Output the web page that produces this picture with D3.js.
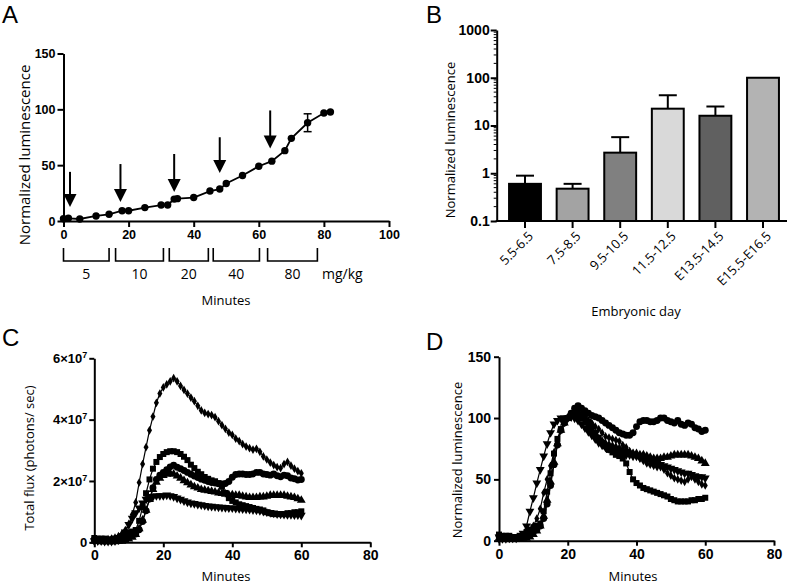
<!DOCTYPE html>
<html><head><meta charset="utf-8">
<script src="https://cdn.jsdelivr.net/npm/d3@7"></script>
<style>body{margin:0;background:#fff}svg{display:block}</style>
</head><body>
<svg id="c" width="787" height="586"></svg>
<script>
// ---------- Panel A data ----------
const aMinutes = [0,1.5,5,10,14,18,20,25,30,32,34,35,40,45,48,50,55,60,64,68,70,75,80,82];
const aLum = [2,2.4,1.8,4.5,6,9.2,9.2,12,14.3,14.3,19.6,20,21,26.8,28.6,33.6,40.8,49,53.6,63,74,88,96.7,97.6];
const aErrX = [75];
const aErrY = [88];
const aErrSD = [8];
const aArrowX = [2,17.5,34,48,63.5];
const aArrowTop = [44,51,60,75,99];
const aArrowTip = [12.5,17,26,43,65];
const aDoseStart = [0,16,32.5,46,62.7];
const aDoseEnd = [14,30.7,44.5,60.2,78];
const aDoseLabels = ["5","10","20","40","80"];
const aXTicks = [0,20,40,60,80,100];
const aYTicks = [0,50,100,150];

// ---------- Panel B data ----------
const bCats = ["5.5-6.5","7.5-8.5","9.5-10.5","11.5-12.5","E13.5-14.5","E15.5-E16.5"];
const bMeans = [0.6,0.475,2.7,22.5,16,100];
const bErrTop = [0.89,0.6,5.7,43,25,null];
const bYTicks = [0.1,1,10,100,1000];

// ---------- Panel C / D data ----------
const tMinutes = [0,1,2,3,4,5,6,7,8,9,10,11,12,13,14,15,16,17,18,19,20,21,22,23,24,25,26,27,28,29,30,31,32,33,34,35,36,37,38,39,40,41,42,43,44,45,46,47,48,49,50,51,52,53,54,55,56,57,58,59,60];
// Total flux in units of 10^7 photons/sec
const cDiamond = [0.05,0.05,0.06,0.08,0.1,0.12,0.15,0.2,0.28,0.4, 0.6,0.9,1.3,1.95,2.55,3.1,3.65,4.1,4.55,4.85, 5.05,5.15,5.25,5.35,5.25,5.1,4.97,4.85,4.72,4.6, 4.45,4.3,4.22,4.18,4.15,4.08,3.95,3.82,3.7,3.58, 3.5,3.38,3.3,3.2,3.12,3.07,3.02,3.05,2.95,2.8, 2.7,2.6,2.52,2.45,2.42,2.55,2.62,2.5,2.4,2.32,2.25];
const cSquare = [0.14,0.12,0.12,0.12,0.09,0.09,0.12,0.14,0.2,0.26, 0.32,0.35,0.4,0.7,1.15,1.6,2.05,2.4,2.62,2.78, 2.88,2.94,2.97,2.97,2.94,2.88,2.79,2.68,2.53,2.42, 2.3,2.22,2.13,2.07,2.02,1.99,1.93,1.81,1.61,1.44, 1.35,1.3,1.24,1.21,1.18,1.15,1.12,1.09,1.07,1.04, 0.98,0.95,0.92,0.92,0.92,0.92,0.95,0.95,0.98,0.98,1.01];
const cCircle = [0.09,0.07,0.07,0.05,0.05,0.05,0.07,0.07,0.09,0.11, 0.16,0.21,0.27,0.41,0.68,1.03,1.41,1.78,2.05,2.19, 2.28,2.37,2.46,2.51,2.45,2.4,2.34,2.28,2.22,2.16, 2.11,2.06,2.02,1.98,1.95,1.93,1.91,1.9,1.92,1.98, 2.12,2.21,2.23,2.23,2.21,2.21,2.23,2.28,2.28,2.23, 2.21,2.19,2.23,2.17,2.14,2.19,2.17,2.1,2.07,2.03,2.05];
const cTriUp = [0.04,0.04,0.02,0.02,0.02,0.02,0.02,0.04,0.04,0.07, 0.11,0.17,0.26,0.44,0.72,1.05,1.4,1.72,1.96,2.09, 2.18,2.22,2.25,2.22,2.16,2.09,2.01,1.94,1.87,1.81, 1.77,1.72,1.7,1.68,1.66,1.64,1.61,1.59,1.57,1.55, 1.55,1.53,1.53,1.5,1.48,1.46,1.46,1.46,1.48,1.48, 1.5,1.53,1.53,1.53,1.53,1.53,1.5,1.48,1.46,1.42,1.37];
const cTriDown = [0.05,0.05,0.05,0.03,0.03,0.03,0.05,0.08,0.15,0.33, 0.58,0.78,0.96,1.12,1.28,1.4,1.46,1.49,1.52,1.52, 1.52,1.54,1.52,1.49,1.44,1.4,1.35,1.31,1.28,1.26, 1.24,1.22,1.2,1.18,1.17,1.16,1.15,1.14,1.13,1.12, 1.12,1.11,1.1,1.09,1.08,1.07,1.06,1.05,1.03,1.01, 0.99,0.97,0.95,0.93,0.92,0.91,0.9,0.9,0.89,0.89,0.88];
const cYTicks = [0,2,4,6];
const dDiamond = [1,1,1,2,2,2,3,4,6,8, 12,18,26,39,50,61,72,81,90,96, 100,102,104,106,104,101,98,96,93,91, 88,85,84,83,82,81,78,76,73,71, 69,67,65,63,62,61,60,60,58,55, 53,51,50,49,48,50,52,50,48,46,45];
const dSquare = [5,4,4,4,3,3,4,5,7,9, 11,12,14,24,40,55,71,83,91,97, 100,102,103,103,102,100,97,93,88,84, 80,77,74,72,70,69,67,63,56,50, 47,45,43,42,41,40,39,38,37,36, 34,33,32,32,32,32,33,33,34,34,35];
const dCircle = [4,3,3,2,2,2,3,3,4,5, 7,9,12,18,30,45,62,78,90,96, 100,104,108,110,108,106,104,102,101,100, 98,96,94,92,90,88,87,86,86,88, 93,97,98,98,97,97,98,100,100,98, 97,96,98,95,94,96,95,92,91,89,90];
const dTriUp = [2,2,1,1,1,1,1,2,2,3, 5,8,12,20,33,48,64,79,90,96, 100,102,103,102,99,96,92,89,86,83, 81,79,78,77,76,75,74,73,72,71, 71,70,70,69,68,67,67,67,68,68, 69,70,70,70,70,70,69,68,67,65,63];
const dTriDown = [3,3,3,2,2,2,3,6,12,24, 35,47,58,69,79,88,95,98,100,100, 100,101,100,98,95,92,89,86,83,80, 78,76,75,74,73,72,71,70,70,69, 69,68,67,66,65,64,63,62,61,60, 59,58,57,56,55,55,54,53,52,52,51];
const dYTicks = [0,50,100,150];
const cdXTicks = [0,20,40,60,80];

// ---------- styles ----------
const tickFont = '"Liberation Sans", Arial, sans-serif';
const labFont = '"Open Sans", sans-serif';
const letterFont = '"Liberation Sans", Arial, sans-serif';
const barColors = ["#000000","#a3a3a3","#808080","#d9d9d9","#606060","#b3b3b3"];

const svg = d3.select("#c");

function styleAxis(g, fs){
  g.select(".domain").attr("stroke","#000").attr("stroke-width",2);
  g.selectAll(".tick line").attr("stroke","#000").attr("stroke-width",2);
  g.selectAll(".tick text").attr("font-family",tickFont).attr("font-weight","bold")
    .attr("font-size",fs).attr("fill","#000");
}
function label(txt, x, y, fs, rot, anchor){
  const t = svg.append("text").attr("font-family",labFont).attr("font-size",fs)
    .attr("text-anchor",anchor||"middle").attr("fill","#000").text(txt);
  if(rot) t.attr("transform",`translate(${x},${y}) rotate(${rot})`);
  else t.attr("x",x).attr("y",y);
  return t;
}
function letter(txt, x, y){
  svg.append("text").attr("font-family",letterFont).attr("font-size",24)
    .attr("x",x).attr("y",y).attr("fill","#000").text(txt);
}

// ---------- Panel letters ----------
letter("A",2,22.5);
letter("B",426,22.5);
letter("C",2,346);
letter("D",426,350);

// ---------- Panel A ----------
{
  const x = d3.scaleLinear().domain([0,100]).range([63.5,389]);
  const y = d3.scaleLinear().domain([0,150]).range([221,53.5]);
  svg.append("g").attr("transform","translate(0,221)")
    .call(d3.axisBottom(x).tickValues(aXTicks).tickSize(6).tickSizeOuter(0).tickPadding(3))
    .call(styleAxis,12.5);
  svg.append("g").attr("transform","translate(63.5,0)")
    .call(d3.axisLeft(y).tickValues(aYTicks).tickSize(6).tickSizeOuter(0).tickPadding(2))
    .call(styleAxis,12.5);
  const pts = aMinutes.map((m,i)=>[m,aLum[i]]);
  svg.append("path").datum(pts).attr("fill","none").attr("stroke","#000").attr("stroke-width",1.8)
    .attr("d", d3.line().x(d=>x(d[0])).y(d=>y(d[1])));
  svg.append("g").selectAll("circle").data(pts).join("circle")
    .attr("cx",d=>x(d[0])).attr("cy",d=>y(d[1])).attr("r",3.7).attr("fill","#000");
  aErrX.forEach((ex,i)=>{
    const cx = x(ex), y1 = y(aErrY[i]-aErrSD[i]), y2 = y(aErrY[i]+aErrSD[i]);
    const g = svg.append("g").attr("stroke","#000").attr("stroke-width",1.5);
    g.append("line").attr("x1",cx).attr("x2",cx).attr("y1",y1).attr("y2",y2);
    g.append("line").attr("x1",cx-4).attr("x2",cx+4).attr("y1",y1).attr("y2",y1);
    g.append("line").attr("x1",cx-4).attr("x2",cx+4).attr("y1",y2).attr("y2",y2);
  });
  aArrowX.forEach((ax,i)=>{
    const cx = x(ax), yt = y(aArrowTop[i]), yp = y(aArrowTip[i]);
    svg.append("line").attr("x1",cx).attr("x2",cx).attr("y1",yt).attr("y2",yp-10)
      .attr("stroke","#000").attr("stroke-width",2);
    svg.append("path").attr("d",`M${cx-6.5},${yp-13}L${cx+6.5},${yp-13}L${cx},${yp}Z`).attr("fill","#000");
  });
  aDoseStart.forEach((s,i)=>{
    const x0 = x(s), x1 = x(aDoseEnd[i]);
    svg.append("path").attr("d",`M${x0},248V261H${x1}V248`).attr("fill","none")
      .attr("stroke","#000").attr("stroke-width",1.6);
    label(aDoseLabels[i], (x0+x1)/2, 279, 14);
  });
  label("mg/kg", 322, 279, 14, 0, "start");
  label("Minutes", 226, 305, 13);
  label("Normalized luminescence", 30, 155, 15, -90);
}

// ---------- Panel B ----------
{
  const y = d3.scaleLog().domain([0.1,1000]).range([221,30]);
  const x = d3.scaleBand().domain(bCats).range([501.2,786.8]).paddingInner(0.33).paddingOuter(0.165);
  const x0 = 496.7;
  const minors = [];
  for (let e=-1;e<3;e++) for (let k=2;k<10;k++) minors.push(k*Math.pow(10,e));
  svg.append("g").selectAll("line").data(minors).join("line")
    .attr("x1",x0-3).attr("x2",x0).attr("y1",d=>y(d)).attr("y2",d=>y(d))
    .attr("stroke","#000").attr("stroke-width",1);
  svg.append("g").attr("transform",`translate(${x0},0)`)
    .call(d3.axisLeft(y).tickValues(bYTicks).tickFormat(d=>d<1?"0.1":String(d)).tickSize(6).tickSizeOuter(0).tickPadding(1))
    .call(styleAxis,14);
  bCats.forEach((c,i)=>{
    const bx = x(c), bw = x.bandwidth(), cx = bx + bw/2;
    if (bErrTop[i] != null) {
      const g = svg.append("g").attr("stroke","#000").attr("stroke-width",2);
      g.append("line").attr("x1",cx).attr("x2",cx).attr("y1",y(bMeans[i])).attr("y2",y(bErrTop[i]));
      g.append("line").attr("x1",cx-9).attr("x2",cx+9).attr("y1",y(bErrTop[i])).attr("y2",y(bErrTop[i]));
    }
    svg.append("rect").attr("x",bx).attr("y",y(bMeans[i])).attr("width",bw)
      .attr("height",221-y(bMeans[i])).attr("fill",barColors[i]).attr("stroke","#000").attr("stroke-width",2);
  });
  const xa = svg.append("g").attr("transform","translate(0,221)")
    .call(d3.axisBottom(x).tickSize(7).tickSizeOuter(0).tickFormat(""));
  xa.select(".domain").remove();
  xa.selectAll(".tick line").attr("stroke","#000").attr("stroke-width",2);
  svg.append("line").attr("x1",x0-1).attr("x2",787).attr("y1",221).attr("y2",221)
    .attr("stroke","#000").attr("stroke-width",2);
  bCats.forEach(c=>{
    const cx = x(c) + x.bandwidth()/2;
    svg.append("text").attr("font-family",labFont).attr("font-size",13).attr("text-anchor","end")
      .attr("transform",`translate(${cx+9},${237}) rotate(-45)`).text(c);
  });
  label("Embryonic day", 636, 316, 13);
  label("Normalized luminescence", 455, 140, 13, -90);
}

// ---------- Panels C & D ----------
function drawSeries(g, x, y, vals, type, size, rot){
  const pts = tMinutes.map((t,i)=>[t,vals[i]]);
  g.append("path").datum(pts).attr("fill","none").attr("stroke","#000").attr("stroke-width",1.2)
    .attr("d", d3.line().x(d=>x(d[0])).y(d=>y(d[1])));
  const sym = d3.symbol().type(type).size(size)();
  g.append("g").selectAll("path").data(pts).join("path")
    .attr("d",sym).attr("fill","#000")
    .attr("transform",d=>`translate(${x(d[0])},${y(d[1])})${rot?" rotate(180)":""}`);
}
{
  const x = d3.scaleLinear().domain([0,80]).range([94.3,370.3]);
  const y = d3.scaleLinear().domain([0,6]).range([542.3,358.3]);
  const ya = svg.append("g").attr("transform","translate(94.3,0)")
    .call(d3.axisLeft(y).tickValues(cYTicks).tickSize(5).tickSizeOuter(0).tickPadding(2))
    .call(styleAxis,13);
  ya.selectAll(".tick text").each(function(d){
    const t = d3.select(this);
    if (d === 0) { t.text("0"); return; }
    t.text(null);
    t.append("tspan").text(d + "×10");
    t.append("tspan").attr("dy","-0.55em").attr("font-size",9).text("7");
  });
  svg.append("g").attr("transform","translate(0,542.3)")
    .call(d3.axisBottom(x).tickValues(cdXTicks).tickSize(5).tickSizeOuter(0).tickPadding(3))
    .call(styleAxis,14);
  const g = svg.append("g");
  drawSeries(g,x,y,cTriDown,d3.symbolTriangle,34,true);
  drawSeries(g,x,y,cTriUp,d3.symbolTriangle,34,false);
  drawSeries(g,x,y,cCircle,d3.symbolCircle,38,false);
  drawSeries(g,x,y,cSquare,d3.symbolSquare,36,false);
  drawSeries(g,x,y,cDiamond,d3.symbolDiamond,22,false);
  label("Minutes", 226, 581, 13);
  label("Total flux (photons/ sec)", 34, 458, 13, -90);
}
{
  const x = d3.scaleLinear().domain([0,80]).range([499,774]);
  const y = d3.scaleLinear().domain([0,150]).range([540.7,356.7]);
  svg.append("g").attr("transform","translate(499,0)")
    .call(d3.axisLeft(y).tickValues(dYTicks).tickSize(5).tickSizeOuter(0).tickPadding(3))
    .call(styleAxis,14);
  svg.append("g").attr("transform","translate(0,540.7)")
    .call(d3.axisBottom(x).tickValues(cdXTicks).tickSize(5).tickSizeOuter(0).tickPadding(3))
    .call(styleAxis,14);
  const g = svg.append("g");
  drawSeries(g,x,y,dTriUp,d3.symbolTriangle,34,false);
  drawSeries(g,x,y,dDiamond,d3.symbolDiamond,22,false);
  drawSeries(g,x,y,dSquare,d3.symbolSquare,36,false);
  drawSeries(g,x,y,dCircle,d3.symbolCircle,38,false);
  drawSeries(g,x,y,dTriDown,d3.symbolTriangle,34,true);
  label("Minutes", 633, 581, 13);
  label("Normalized luminescence", 462, 460, 13, -90);
}
</script>
</body></html>
